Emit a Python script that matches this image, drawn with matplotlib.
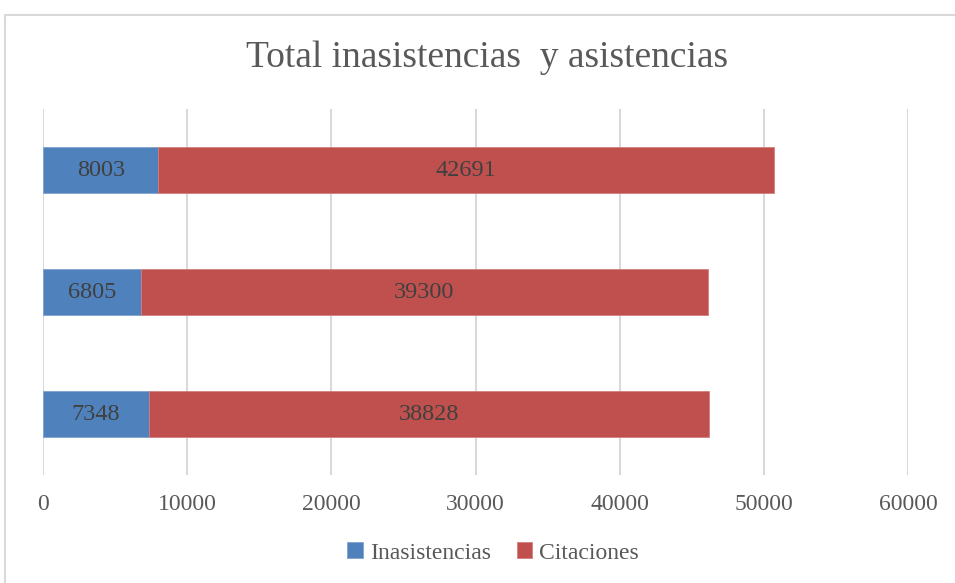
import matplotlib.pyplot as plt
import matplotlib.patches as mpatches

plt.rcParams["font.family"] = ["Liberation Serif", "DejaVu Serif"]

# Bars from bottom to top
categorias = ["A", "B", "C"]
inasistencias = [7348, 6805, 8003]
citaciones = [38828, 39300, 42691]
xticks = [0, 10000, 20000, 30000, 40000, 50000, 60000]

AZUL = "#4F81BD"
ROJO = "#C0504D"
GRIS_TXT = "#595959"
GRIS_GRID = "#D9D9D9"

fig = plt.figure(figsize=(9.55, 5.83), dpi=100)
ax = fig.add_axes([43 / 955, 1 - 475 / 583, (908 - 43) / 955, (475 - 109) / 583])

# outer chart frame
fig.patches.append(mpatches.Rectangle(
    (4.5 / 955, -0.05), 1.2, 1 - 14.5 / 583 + 0.05,
    transform=fig.transFigure, fill=False, edgecolor=GRIS_GRID, linewidth=1.5,
))

pos = range(len(categorias))
b1 = ax.barh(pos, inasistencias, height=0.385, color=AZUL,
             edgecolor="#7FA3D0", linewidth=0.6, label="Inasistencias", zorder=3)
b2 = ax.barh(pos, citaciones, left=inasistencias, height=0.385, color=ROJO,
             edgecolor="#D47F7D", linewidth=0.6, label="Citaciones", zorder=3)

ax.bar_label(b1, labels=[str(v) for v in inasistencias], label_type="center",
             fontsize=17.5, color="#404040")
ax.bar_label(b2, labels=[str(v) for v in citaciones], label_type="center",
             fontsize=17.5, color="#404040")

ax.set_xlim(0, 60000)
ax.set_ylim(-0.5, 2.5)
ax.set_xticks(xticks)
ax.set_xticklabels([str(t) for t in xticks])
ax.set_yticks([])
ax.tick_params(axis="x", length=0, pad=14, labelsize=17, labelcolor=GRIS_TXT)
ax.grid(axis="x", color=GRIS_GRID, linewidth=1.5, zorder=0)
for s in ax.spines.values():
    s.set_visible(False)

fig.text(487 / 955, 1 - 58 / 583, "Total inasistencias  y asistencias",
         ha="center", va="center", fontsize=27, color=GRIS_TXT)

fig.legend(handles=[b1, b2], loc="center", bbox_to_anchor=(493 / 955, 1 - 553 / 583),
           ncol=2, frameon=False, fontsize=17, labelcolor=GRIS_TXT,
           handlelength=0.65, handleheight=0.65, handletextpad=0.3, columnspacing=1.1)

fig.savefig("out.png", dpi=100)
